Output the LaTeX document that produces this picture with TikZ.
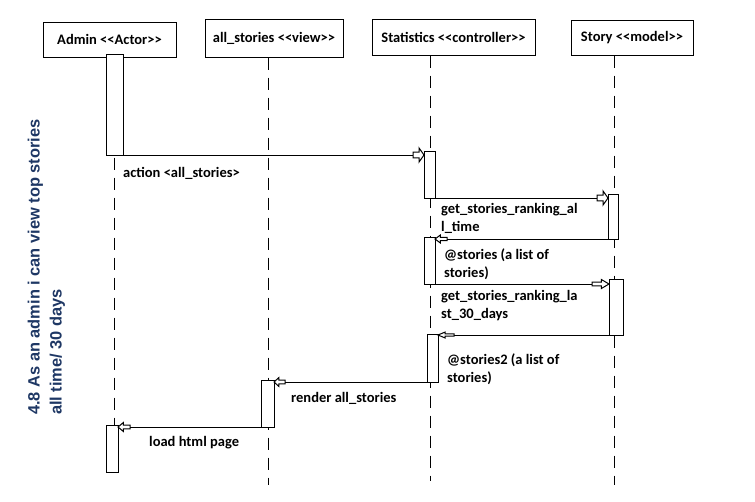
\documentclass[tikz,border=0pt]{standalone}
\usepackage{fontspec}
\usepackage{xcolor}
\usetikzlibrary{arrows.meta}

\newfontfamily\calfont{Carlito}
\newfontfamily\arifont{Liberation Sans}
\definecolor{titleblue}{RGB}{30,55,100}
\newcommand\stereo[1]{<{}<#1>{}>}

% hollow block arrow head
\pgfdeclarearrow{
  name = Block,
  parameters = {\the\pgfarrowlength,\the\pgfarrowwidth},
  setup code = {
    \pgfarrowssettipend{0pt}
    \pgfarrowssetlineend{-\pgfarrowlength}
    \pgfarrowssetbackend{-\pgfarrowlength}
    \pgfarrowssetvisualbackend{-\pgfarrowlength}
    \pgfarrowsupperhullpoint{0pt}{.5\pgfarrowwidth}
    \pgfarrowsupperhullpoint{-\pgfarrowlength}{.5\pgfarrowwidth}
    \pgfarrowlinewidth=\pgflinewidth
    \pgfarrowssavethe\pgfarrowlength
    \pgfarrowssavethe\pgfarrowwidth
  },
  drawing code = {
    \pgfpathmoveto{\pgfqpoint{0pt}{0pt}}
    \pgfpathlineto{\pgfpoint{-.45\pgfarrowlength}{.5\pgfarrowwidth}}
    \pgfpathlineto{\pgfpoint{-.45\pgfarrowlength}{.2\pgfarrowwidth}}
    \pgfpathlineto{\pgfpoint{-\pgfarrowlength}{.2\pgfarrowwidth}}
    \pgfpathlineto{\pgfpoint{-\pgfarrowlength}{-.2\pgfarrowwidth}}
    \pgfpathlineto{\pgfpoint{-.45\pgfarrowlength}{-.2\pgfarrowwidth}}
    \pgfpathlineto{\pgfpoint{-.45\pgfarrowlength}{-.5\pgfarrowwidth}}
    \pgfpathclose
    \pgfusepathqstroke
  },
  defaults = {length = 11pt, width = 14pt}
}

\begin{document}
\begin{tikzpicture}[x=1pt, y=-1pt,
    head/.style={draw, line width=1pt, inner sep=0pt, font=\calfont\bfseries\fontsize{14.5}{17.7}\selectfont},
    bar/.style={draw, fill=white, line width=1pt, inner sep=0pt, outer sep=0pt},
    life/.style={line width=1pt, dash pattern=on 12pt off 8pt},
    msg/.style={line width=1pt, -{Block}},
    lbl/.style={anchor=base west, inner sep=0pt, align=left, font=\calfont\bfseries\fontsize{14.5}{17.7}\selectfont}]
        \useasboundingbox (0,0) rectangle (755,501);

        \node[head, minimum width=133, minimum height=35] (ah) at (109.5,39.5) {Admin \stereo{Actor}};
        \node[head, minimum width=138, minimum height=38] (vh) at (274,38) {all\_stories \stereo{view}};
        \node[head, minimum width=163, minimum height=36] (ch) at (453.5,37) {Statistics \stereo{controller}};
        \node[head, minimum width=122, minimum height=35] (mh) at (632,37.5) {Story \stereo{model}};

        \coordinate (aend) at (114,476);
        \coordinate (vend) at (268,485);
        \coordinate (cend) at (430,481);
        \coordinate (mend) at (614,485);
        \draw[life] (ah.south -| aend) -- (aend);
        \draw[life] (vh.south -| vend) -- (vend);
        \draw[life] (ch.south -| cend) -- (cend);
        \draw[life] (mh.south -| mend) -- (mend);

        \node[bar, minimum width=17, minimum height=101] (a1) at (114.5,104.5) {};
        \node[bar, minimum width=11, minimum height=47] (s1) at (429.5,174.5) {};
        \node[bar, minimum width=10, minimum height=45] (m1) at (613,216.5) {};
        \node[bar, minimum width=11, minimum height=47] (s2) at (429.5,260.5) {};
        \node[bar, minimum width=14, minimum height=56] (m2) at (616,307) {};
        \node[bar, minimum width=11, minimum height=48] (s3) at (432.5,358) {};
        \node[bar, minimum width=13, minimum height=47] (v1) at (267.5,403.5) {};
        \node[bar, minimum width=12, minimum height=47] (a2) at (112,448.5) {};

        \path[msg]
        (a1.south east) edge (a1.south east -| s1.west)
        (s1.south east) edge (s1.south east -| m1.west)
        (m1.south west) edge [-{Block[length=12pt, width=8pt]}] (m1.south west -| s2.east)
        (s2.south west) edge [-{Block[length=17pt, width=9pt]}] (s2.south west -| m2.west)
        (m2.south west) edge [-{Block[length=16pt, width=6pt]}] (m2.south west -| s3.east)
        (s3.south west) edge [-{Block[length=11pt, width=9pt]}] (s3.south west -| v1.east)
        (v1.south west) edge [-{Block[length=12pt, width=9pt]}] (v1.south west -| a2.east);

        \node[lbl] (l1) at (123,177) {action <all\_stories>};
        \node[lbl] (l2) at (441,231) {get\_stories\_ranking\_al\\l\_time};
        \node[lbl] (l3) at (444,277) {@stories (a list of\\stories)};
        \node[lbl] (l4) at (441,318) {get\_stories\_ranking\_la\\st\_30\_days};
        \node[lbl] (l5) at (447,382) {@stories2 (a list of\\stories)};
        \node[lbl] (l6) at (291,402) {render all\_stories};
        \node[lbl] (l7) at (149,446) {load html page};

        \node[rotate=90, anchor=north west, align=left, inner sep=0pt, text=titleblue,
              font=\arifont\bfseries\fontsize{16.4}{22}\selectfont] (title) at (27.5,415)
              {4.8 As an admin i can view top stories\\all time/ 30 days};
\end{tikzpicture}
\end{document}
